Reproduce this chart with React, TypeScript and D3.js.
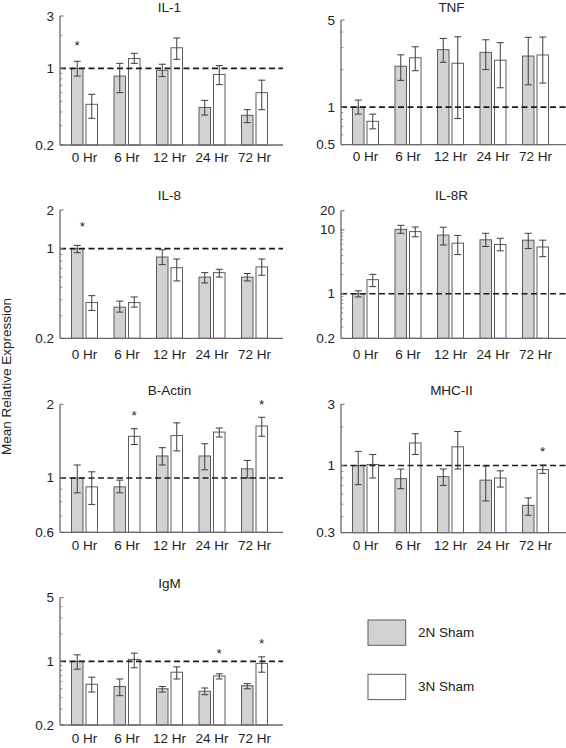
import React from "react";
import * as d3 from "d3";

// ---------- data ----------
const times = ["0 Hr", "6 Hr", "12 Hr", "24 Hr", "72 Hr"];
const seriesNames = ["2N Sham", "3N Sham"];
const genes = ["IL-1", "TNF", "IL-8", "IL-8R", "B-Actin", "MHC-II", "IgM"];
const domains: [number, number][] = [
  [0.2, 3], [0.5, 5], [0.2, 2], [0.2, 20], [0.6, 2], [0.3, 3], [0.2, 5],
];
const majorTicks: number[][] = [
  [0.2, 1, 3], [0.5, 1, 5], [0.2, 1, 2], [0.2, 1, 10, 20], [0.6, 1, 2], [0.3, 1, 3], [0.2, 1, 5],
];

// 2N Sham (gray) means and error bar ends
const grayMean: number[][] = [
  [1.0, 0.85, 0.96, 0.44, 0.373],
  [1.0, 2.13, 2.89, 2.75, 2.57],
  [1.0, 0.35, 0.86, 0.60, 0.60],
  [1.0, 10.2, 8.3, 7.0, 6.9],
  [1.0, 0.92, 1.23, 1.23, 1.09],
  [1.0, 0.79, 0.82, 0.77, 0.49],
  [1.0, 0.53, 0.50, 0.47, 0.54],
];
const grayLo: number[][] = [
  [0.85, 0.60, 0.84, 0.375, 0.32],
  [0.88, 1.64, 2.29, 2.0, 1.51],
  [0.93, 0.32, 0.75, 0.54, 0.56],
  [0.89, 8.85, 5.8, 5.5, 5.1],
  [0.87, 0.87, 1.13, 1.08, 1.0],
  [0.71, 0.66, 0.70, 0.53, 0.41],
  [0.82, 0.42, 0.46, 0.43, 0.50],
];
const grayHi: number[][] = [
  [1.16, 1.11, 1.09, 0.51, 0.42],
  [1.14, 2.63, 3.56, 3.47, 3.63],
  [1.06, 0.39, 0.98, 0.65, 0.64],
  [1.11, 11.8, 11.0, 8.85, 8.85],
  [1.13, 0.98, 1.33, 1.38, 1.18],
  [1.29, 0.94, 0.94, 0.99, 0.56],
  [1.18, 0.64, 0.53, 0.51, 0.57],
];
// 3N Sham (white)
const whiteMean: number[][] = [
  [0.47, 1.23, 1.54, 0.88, 0.60],
  [0.77, 2.49, 2.25, 2.38, 2.62],
  [0.38, 0.38, 0.71, 0.65, 0.72],
  [1.66, 9.4, 6.2, 5.9, 5.4],
  [0.92, 1.48, 1.49, 1.54, 1.63],
  [1.02, 1.50, 1.40, 0.80, 0.93],
  [0.56, 1.05, 0.76, 0.69, 0.95],
];
const whiteLo: number[][] = [
  [0.35, 1.11, 1.21, 0.71, 0.42],
  [0.67, 1.96, 0.81, 1.43, 1.56],
  [0.33, 0.35, 0.56, 0.60, 0.62],
  [1.29, 7.8, 4.1, 4.7, 3.8],
  [0.78, 1.37, 1.29, 1.47, 1.48],
  [0.80, 1.22, 0.94, 0.68, 0.87],
  [0.46, 0.85, 0.64, 0.64, 0.76],
];
const whiteHi: number[][] = [
  [0.58, 1.37, 1.89, 1.06, 0.78],
  [0.88, 3.05, 3.67, 3.29, 3.65],
  [0.43, 0.42, 0.83, 0.69, 0.83],
  [2.01, 11.1, 8.2, 7.4, 6.9],
  [1.06, 1.59, 1.68, 1.60, 1.77],
  [1.22, 1.77, 1.84, 0.91, 1.01],
  [0.67, 1.23, 0.87, 0.73, 1.12],
];
// significance stars: gene index, time index, slot (-1 gray, +1 white), value
const starGene = [0, 2, 4, 4, 5, 6, 6];
const starTime = [0, 0, 1, 4, 4, 3, 4];
const starSlot = [-1, -0.3, 1, 1, 1, 1, 1];
const starValue = [1.73, 1.58, 1.86, 2.05, 1.36, 1.33, 1.72];

// ---------- layout ----------
const W = 566, H = 748;
const colX0 = [60, 341];
const colX1 = [283, 566];
const panelCol = [0, 1, 0, 1, 0, 1, 0];
const panelTop = [16, 20, 210, 210.7, 404.3, 404.3, 597.7];
const panelBottom = [145, 144.7, 338.3, 338.3, 532.3, 532.7, 725];
const panelTitleY = [7.5, 7.5, 195.7, 195.5, 390, 390, 583.7];
const panelLabelDy = [12, 12, 16.5, 16, 13, 13, 13];

const FONT = "'Liberation Sans', Arial, Helvetica, sans-serif";
const FS = 13.5;
const GRAY = "#d2d2d4";
const STROKE = "#5c5c5c";
const AXIS = "#6a6a6a";
const BAR_W = 11.5;
const BAR_GAP = 1.5;

function minorTicks(dom: [number, number], majors: number[]) {
  const out: number[] = [];
  const lo = Math.floor(Math.log10(dom[0]));
  const hi = Math.ceil(Math.log10(dom[1]));
  for (let e = lo; e <= hi; e++) {
    for (let k = 1; k <= 9; k++) {
      const v = +(k * Math.pow(10, e)).toPrecision(6);
      if (v < dom[0] - 1e-9 || v > dom[1] + 1e-9) continue;
      if (majors.some((m) => Math.abs(m - v) < 1e-9)) continue;
      out.push(v);
    }
  }
  return out;
}

function Panel({ gi }: { gi: number }) {
  const col = panelCol[gi];
  const x0 = colX0[col];
  const x1 = colX1[col];
  const top = panelTop[gi];
  const bottom = panelBottom[gi];
  const y = d3.scaleLog().domain(domains[gi]).range([bottom, top]);
  const x = d3.scalePoint<string>().domain(times).range([x0 + 24.5, x0 + 24.5 + 170]);
  const minors = minorTicks(domains[gi], majorTicks[gi]);
  const series = [
    { mean: grayMean[gi], lo: grayLo[gi], hi: grayHi[gi], fill: GRAY, off: -BAR_GAP - BAR_W },
    { mean: whiteMean[gi], lo: whiteLo[gi], hi: whiteHi[gi], fill: "#ffffff", off: BAR_GAP },
  ];
  const stars = starGene
    .map((g, i) => ({ g, t: starTime[i], s: starSlot[i], v: starValue[i] }))
    .filter((s) => s.g === gi);
  return (
    <g>
      <text x={(x0 + x1) / 2 - 2} y={panelTitleY[gi]} textAnchor="middle" dominantBaseline="central"
        fontFamily={FONT} fontSize={FS} fill="#222">{genes[gi]}</text>
      {series.map((s, si) =>
        times.map((t, ti) => {
          const bx = (x(t) as number) + s.off;
          const yt = y(s.mean[ti]);
          return (
            <rect key={`b${si}-${ti}`} x={bx} y={yt} width={BAR_W} height={bottom - yt}
              fill={s.fill} stroke={STROKE} strokeWidth={1} />
          );
        })
      )}
      <line x1={x0} x2={x1} y1={y(1)} y2={y(1)} stroke="#1a1a1a" strokeWidth={1.6} strokeDasharray="6 3.5" />
      {series.map((s, si) =>
        times.map((t, ti) => {
          const cx = (x(t) as number) + s.off + BAR_W / 2;
          const ylo = y(s.lo[ti]);
          const yhi = y(s.hi[ti]);
          return (
            <g key={`e${si}-${ti}`} stroke="#3c3c3c" strokeWidth={1}>
              <line x1={cx} x2={cx} y1={ylo} y2={yhi} />
              <line x1={cx - 3.5} x2={cx + 3.5} y1={ylo} y2={ylo} />
              <line x1={cx - 3.5} x2={cx + 3.5} y1={yhi} y2={yhi} />
            </g>
          );
        })
      )}
      {/* axes */}
      <line x1={x0} x2={x0} y1={top} y2={bottom} stroke={AXIS} strokeWidth={1.3} />
      <line x1={x0} x2={x1} y1={bottom} y2={bottom} stroke={AXIS} strokeWidth={1.3} />
      {majorTicks[gi].map((v) => (
        <g key={`m${v}`}>
          <line x1={x0} x2={x0 + 3.5} y1={y(v)} y2={y(v)} stroke={AXIS} strokeWidth={1} />
          <text x={x0 - 6} y={y(v)} textAnchor="end" dominantBaseline="central"
            fontFamily={FONT} fontSize={FS} fill="#222">{v}</text>
        </g>
      ))}
      {minors.map((v) => (
        <line key={`n${v}`} x1={x0} x2={x0 + 2.2} y1={y(v)} y2={y(v)} stroke={AXIS} strokeWidth={0.8} />
      ))}
      {times.map((t) => (
        <text key={`x${t}`} x={x(t) as number} y={bottom + panelLabelDy[gi]} textAnchor="middle"
          dominantBaseline="central" fontFamily={FONT} fontSize={FS} fill="#222">{t}</text>
      ))}
      {stars.map((s, i) => (
        <text key={`s${i}`} x={(x(times[s.t]) as number) + s.s * (BAR_GAP + BAR_W / 2)} y={y(s.v) + 7.7}
          textAnchor="middle" fontFamily={FONT} fontSize={FS} fill="#222">*</text>
      ))}
    </g>
  );
}

export default function App() {
  return (
    <svg width={W} height={H} style={{ position: "absolute", left: 0, top: 0, background: "#fff" }}>
      <rect x={0} y={0} width={W} height={H} fill="#fff" />
      {genes.map((g, gi) => (
        <Panel key={g} gi={gi} />
      ))}
      <text transform={`translate(6, 376.5) rotate(-90)`} textAnchor="middle" dominantBaseline="central"
        fontFamily={FONT} fontSize={FS} fill="#222">Mean Relative Expression</text>
      {seriesNames.map((n, i) => (
        <g key={n}>
          <rect x={368} y={620 + i * 54.3} width={37.7} height={25.3}
            fill={i === 0 ? GRAY : "#fff"} stroke={STROKE} strokeWidth={1} />
          <text x={418} y={632.5 + i * 54.3} dominantBaseline="central" fontFamily={FONT} fontSize={FS}
            fill="#222">{n}</text>
        </g>
      ))}
    </svg>
  );
}
